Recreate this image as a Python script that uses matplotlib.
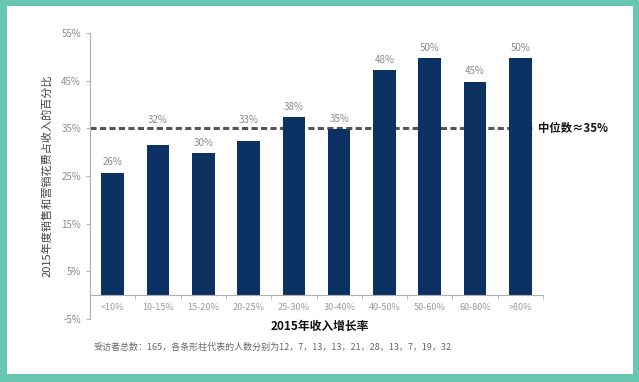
import numpy as np
import matplotlib.pyplot as plt
from matplotlib.patches import Rectangle

plt.rcParams['font.family'] = ['Noto Sans CJK SC', 'DejaVu Sans']

categories = ["<10%", "10-15%", "15-20%", "20-25%", "25-30%",
              "30-40%", "40-50%", "50-60%", "60-80%", ">80%"]
values = [25.7, 31.5, 29.8, 32.3, 37.3, 34.8, 47.2, 49.7, 44.8, 49.7]
value_labels = ["26%", "32%", "30%", "33%", "38%", "35%", "48%", "50%", "45%", "50%"]
median = 35
y_ticks = [-5, 5, 15, 25, 35, 45, 55]

BAR = "#0c3264"
TEAL = "#66c6b2"

fig = plt.figure(figsize=(6.39, 3.82), dpi=100)
fig.patch.set_facecolor(TEAL)
fig.patches.append(Rectangle((7 / 639, 8 / 382), 626 / 639, 368 / 382,
                             transform=fig.transFigure, facecolor="white",
                             edgecolor="none", zorder=-10))

ax = fig.add_axes([90 / 639, 1 - 319 / 382, 453 / 639, 286 / 382])
ax.set_zorder(5)
ax.set_facecolor("none")

x = np.arange(len(categories))
ax.axhline(median, xmin=0, xmax=0.978, color="#555555", lw=2.2,
           dashes=(2.0, 1.1), zorder=1)
ax.bar(x, values, width=0.5, color=BAR, zorder=2)
for xi, v, lab in zip(x, values, value_labels):
    ly = v + 2.2
    # labels that would sit on the median line are lifted above it
    if median - 3 < ly < median + 1.5:
        ly = median + 1.7
    ax.text(xi, ly, lab, ha="center", va="center", fontsize=7, color="#8a8a8a")

ax.text(0.989, median, "中位数≈35%", transform=ax.get_yaxis_transform(),
        ha="left", va="center", fontsize=8.2, fontweight="bold", color="#111111")

ax.set_xlim(-0.5, len(categories) - 0.5)
ax.set_ylim(-5, 55)
ax.set_yticks(y_ticks)
ax.set_yticklabels([f"{t}%" for t in y_ticks])
ax.set_xticks(x)
ax.set_xticklabels(categories)
ax.set_xticks(np.arange(len(categories) + 1) - 0.5, minor=True)

for s in ["top", "right"]:
    ax.spines[s].set_visible(False)
ax.spines["bottom"].set_position(("data", 0))
ax.spines["bottom"].set_color("#b0b0b0")
ax.spines["left"].set_color("#b0b0b0")
ax.tick_params(axis="y", colors="#b0b0b0", labelcolor="#8c8c8c", labelsize=7, length=3)
ax.tick_params(axis="x", which="major", length=0, labelsize=6.5, labelcolor="#9a9a9a", pad=6)
ax.tick_params(axis="x", which="minor", length=3, color="#b0b0b0")

ax.set_ylabel("2015年度销售和营销花费占收入的百分比", fontsize=8, color="#444444")
ax.yaxis.set_label_coords(-0.084, 0.5)

fig.text(320 / 639, 1 - 326 / 382, "2015年收入增长率", ha="center", va="center",
         fontsize=8.5, fontweight="bold", color="#111111")
fig.text(94 / 639, 1 - 347 / 382,
         "受访者总数：165，各条形柱代表的人数分别为12，7，13，13，21，28，13，7，19，32",
         ha="left", va="center", fontsize=6.5, color="#666666")

fig.savefig("out.png", dpi=100, facecolor=fig.get_facecolor())
